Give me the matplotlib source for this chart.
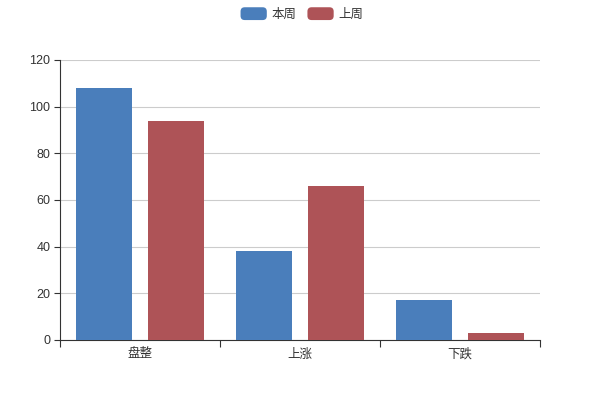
import numpy as np
import matplotlib
matplotlib.use("Agg")
import matplotlib.pyplot as plt
from matplotlib.patches import Patch, FancyBboxPatch
from matplotlib.legend_handler import HandlerPatch

plt.rcParams['font.family'] = ['Liberation Sans', 'Noto Sans CJK SC', 'DejaVu Sans']

categories = ['盘整', '上涨', '下跌']
this_week = [108, 38, 17]
last_week = [94, 66, 3]
series_names = ['本周', '上周']
colors = ['#4a7ebb', '#ae5357']
y_ticks = [0, 20, 40, 60, 80, 100, 120]

fig = plt.figure(figsize=(6, 4), dpi=100)
ax = fig.add_axes([0.1, 0.15, 0.8, 0.7])

x = np.arange(len(categories))
bw = 0.35
off = 0.228
ax.bar(x - off, this_week, bw, color=colors[0], zorder=3)
ax.bar(x + off, last_week, bw, color=colors[1], zorder=3)

ax.set_xlim(-0.5, len(categories) - 0.5)
ax.set_ylim(0, 120)
ax.set_yticks(y_ticks)
ax.grid(axis='y', color='#cccccc', linewidth=0.8, zorder=0)

ax.set_xticks(x)
ax.set_xticklabels(categories)
ax.set_xticks(np.arange(len(categories) + 1) - 0.5, minor=True)
ax.tick_params(axis='x', which='major', length=0, pad=6, labelsize=9, labelcolor='#333333')
ax.tick_params(axis='x', which='minor', length=5, width=0.8, color='#333333')
ax.tick_params(axis='y', length=4, width=0.8, color='#333333', labelsize=9, labelcolor='#333333', pad=3)

for s in ['top', 'right']:
    ax.spines[s].set_visible(False)
for s in ['left', 'bottom']:
    ax.spines[s].set_color('#333333')
    ax.spines[s].set_linewidth(0.8)


class RoundHandler(HandlerPatch):
    def create_artists(self, legend, orig_handle, xdescent, ydescent, width, height, fontsize, trans):
        p = FancyBboxPatch((-xdescent, -ydescent), width, height,
                           boxstyle='round,pad=0,rounding_size=3',
                           facecolor=orig_handle.get_facecolor(), edgecolor='none',
                           transform=trans)
        return [p]


handles = [Patch(facecolor=c) for c in colors]
fig.legend(handles, series_names, loc='upper center', bbox_to_anchor=(0.503, 1.01), ncol=2,
           frameon=False, fontsize=9, handlelength=2.1, handleheight=1.2,
           handletextpad=0.35, columnspacing=0.9, labelcolor='#333333',
           handler_map={Patch: RoundHandler()})

fig.savefig('out.png', dpi=100)
